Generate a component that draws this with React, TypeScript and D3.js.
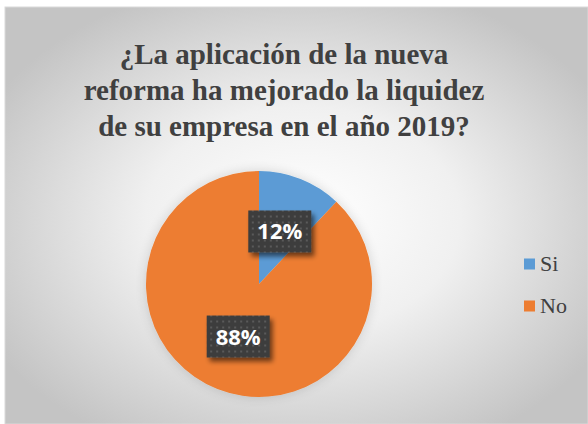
import React from "react";
import * as d3 from "d3";

const categories = ["Si", "No"];
const values = [12, 88];
const labels = ["12%", "88%"];
const colors = ["#5B9BD5", "#ED7D31"];
const titleLines = [
  "¿La aplicación de la nueva",
  "reforma ha mejorado la liquidez",
  "de su empresa en el año 2019?",
];

const W = 588;
const H = 424;
const serif = { fontFamily: "Liberation Serif, serif" };

export default function App() {
  const cx = 259;
  const cy = 284;
  const r = 113;
  const pie = d3.pie<number>().sort(null).value((d) => d)(values);
  const arc = d3.arc<d3.PieArcDatum<number>>().innerRadius(0).outerRadius(r);
  const legendY = d3.scalePoint<string>().domain(categories).range([264, 306]);

  return (
    <div style={{ position: "fixed", left: 0, top: 0, width: W, height: H, background: "#fff" }}>
      <svg width={W} height={H} style={{ display: "block" }}>
        <defs>
          <radialGradient id="bg" cx="50%" cy="52%" r="60%" fx="52%" fy="50%">
            <stop offset="0%" stopColor="#ffffff" />
            <stop offset="45%" stopColor="#f0f0f0" />
            <stop offset="100%" stopColor="#c4c4c4" />
          </radialGradient>
          <pattern id="dots" width="6" height="6" patternUnits="userSpaceOnUse">
            <rect width="6" height="6" fill="#3d3d3d" />
            <rect x="2" y="2" width="2" height="2" fill="#5a5a5a" />
          </pattern>
          <filter id="shadow" x="-30%" y="-30%" width="160%" height="170%">
            <feGaussianBlur in="SourceAlpha" stdDeviation="2.5" />
            <feOffset dx="3" dy="4" result="b" />
            <feComponentTransfer>
              <feFuncA type="linear" slope="0.55" />
            </feComponentTransfer>
            <feMerge>
              <feMergeNode />
              <feMergeNode in="SourceGraphic" />
            </feMerge>
          </filter>
          <filter id="glow" x="-20%" y="-20%" width="140%" height="140%">
            <feGaussianBlur in="SourceAlpha" stdDeviation="6" />
            <feComponentTransfer>
              <feFuncA type="linear" slope="0.15" />
            </feComponentTransfer>
            <feMerge>
              <feMergeNode />
              <feMergeNode in="SourceGraphic" />
            </feMerge>
          </filter>
        </defs>
        <rect x={5} y={7} width={W - 5} height={H - 7} fill="url(#bg)" stroke="#d9d9d9" strokeWidth={1} />
        {titleLines.map((t, i) => (
          <text
            key={i}
            x={284}
            y={64 + i * 36}
            textAnchor="middle"
            style={{ ...serif, fontWeight: "bold", fontSize: 29 }}
            fill="#404040"
          >
            {t}
          </text>
        ))}
        <g transform={`translate(${cx},${cy})`} filter="url(#glow)">
          {pie.map((p, i) => (
            <path key={i} d={arc(p) || ""} fill={colors[i]} />
          ))}
        </g>
        <g transform={`translate(${cx},${cy})`}>
          {pie.map((p, i) => {
            const [lx, ly] = arc.centroid(p);
            return (
              <g key={i} transform={`translate(${lx},${ly})`}>
                <rect x={-31.5} y={-21} width={63} height={42} fill="url(#dots)" filter="url(#shadow)" />
                <text
                  x={0}
                  y={8}
                  textAnchor="middle"
                  style={{ fontFamily: "Open Sans, sans-serif", fontWeight: "bold", fontSize: 22 }}
                  fill="#ffffff"
                >
                  {labels[i]}
                </text>
              </g>
            );
          })}
        </g>
        {categories.map((c, i) => (
          <g key={c} transform={`translate(524,${legendY(c)})`}>
            <rect x={0} y={-5.5} width={11} height={11} fill={colors[i]} />
            <text x={16} y={7} style={{ ...serif, fontSize: 22 }} fill="#404040">
              {c}
            </text>
          </g>
        ))}
      </svg>
    </div>
  );
}
